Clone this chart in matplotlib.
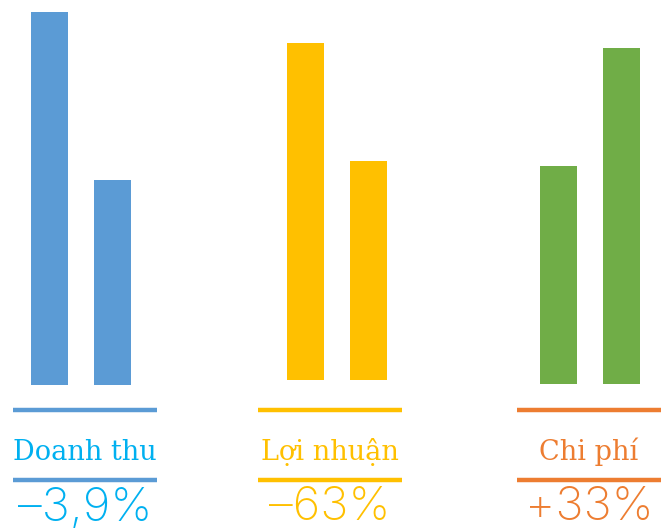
import matplotlib.pyplot as plt

# data (bar heights in pixels above each group's base line)
groups = ['Doanh thu', 'Lợi nhuận', 'Chi phí']
before = [373, 337, 218]
after = [205, 219, 336]
changes = ['\u20133,9%', '\u201363%', '+33%']

bar_colors = ['#5B9BD5', '#FFC000', '#70AD47']
line_colors = ['#5B9BD5', '#FFC000', '#ED7D31']
text_colors = ['#00B0F0', '#FFC000', '#ED7D31']

centers = [85, 330, 589]
bar_centers = [81, 337, 590]
baselines = [385, 380, 384]
gap = 63
bar_w = 37
line_w = 144

fig = plt.figure(figsize=(6.64, 5.31), dpi=100)
ax = fig.add_axes([0, 0, 1, 1])
ax.set_xlim(0, 664)
ax.set_ylim(531, 0)
ax.axis('off')

for i, name in enumerate(groups):
    c = centers[i]
    xs = [bar_centers[i] - gap / 2, bar_centers[i] + gap / 2]
    ax.bar(xs, [-before[i], -after[i]], bottom=baselines[i], width=bar_w,
           color=bar_colors[i])
    for y in (410, 480):
        ax.plot([c - line_w / 2, c + line_w / 2], [y, y], color=line_colors[i],
                lw=3.2, solid_capstyle='butt')
    ax.text(c, 452, name, ha='center', va='center', fontsize=19.5,
            family='DejaVu Serif', color=text_colors[i])
    ax.text(c, 530.5, changes[i], ha='center', va='bottom', fontsize=34,
            family='Inter', weight='light', color=text_colors[i])

fig.savefig('out.png', dpi=100)
